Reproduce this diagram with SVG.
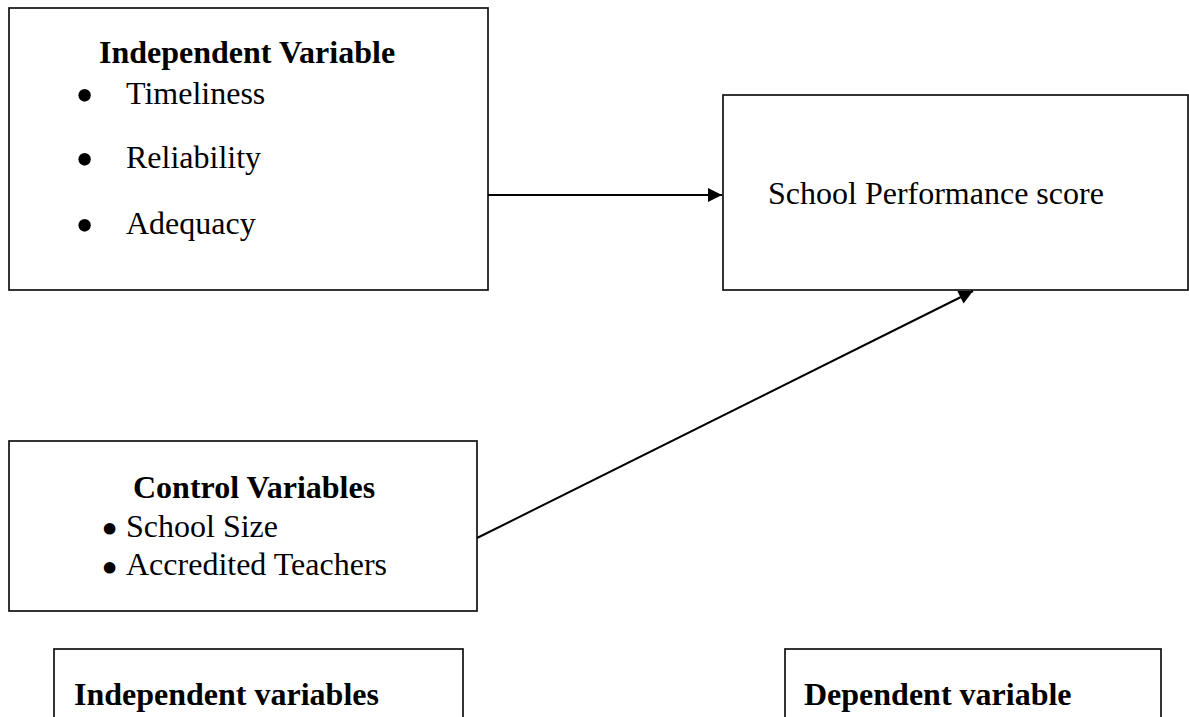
<svg xmlns="http://www.w3.org/2000/svg" width="1189" height="717" viewBox="0 0 1189 717">
  <style>
    .box { fill: #ffffff; stroke: #111111; stroke-width: 1.7; }
    .t { font-family: "Liberation Serif", "Times New Roman", serif; font-size: 32px; fill: #000000; }
    .b { font-weight: bold; }
    .bul { font-family: "Liberation Serif", "Times New Roman", serif; font-size: 52px; fill: #000000; text-anchor: middle; }
    .dot { stroke: #000000; stroke-width: 4; stroke-linejoin: round; }
    .conn { stroke: #000000; stroke-width: 2; fill: none; }
  </style>
  <defs>
    <marker id="arrow" viewBox="0 0 10 10" refX="10" refY="5" markerWidth="8.5" markerHeight="7" markerUnits="strokeWidth" orient="auto">
      <path d="M0,0 L10,5 L0,10 Z" fill="#000000"/>
    </marker>
  </defs>
  <rect width="1189" height="717" fill="#ffffff"/>

  <g id="independent-variable">
    <rect class="box" x="9" y="8" width="479" height="282"/>
    <text class="t b" x="99" y="63">Independent Variable</text>
    <text class="bul" x="84.5" y="113">•</text>
    <text class="t" x="126" y="104">Timeliness</text>
    <text class="bul" x="84.5" y="177">•</text>
    <text class="t" x="126" y="168">Reliability</text>
    <text class="bul" x="84.5" y="243">•</text>
    <text class="t" x="126" y="234">Adequacy</text>
  </g>

  <g id="school-performance">
    <rect class="box" x="723" y="95" width="465" height="195"/>
    <text class="t" x="768" y="204">School Performance score</text>
  </g>

  <g id="control-variables">
    <rect class="box" x="9" y="441" width="468" height="170"/>
    <text class="t b" x="133" y="498">Control Variables</text>
    <text class="t" x="104" y="537"><tspan class="dot" y="539.5">•</tspan><tspan x="126" y="537">School Size</tspan></text>
    <text class="t" x="104" y="575"><tspan class="dot" y="578.5">•</tspan><tspan x="126" y="575">Accredited Teachers</tspan></text>
  </g>

  <g id="independent-variables-label">
    <rect class="box" x="54" y="649" width="409" height="100"/>
    <text class="t b" x="74" y="705">Independent variables</text>
  </g>

  <g id="dependent-variable-label">
    <rect class="box" x="785" y="649" width="376" height="100"/>
    <text class="t b" x="804" y="705">Dependent variable</text>
  </g>

  <g id="connectors">
    <line class="conn" x1="488" y1="195" x2="722" y2="195" marker-end="url(#arrow)"/>
    <line class="conn" x1="477" y1="538" x2="973" y2="291" marker-end="url(#arrow)"/>
  </g>
</svg>
